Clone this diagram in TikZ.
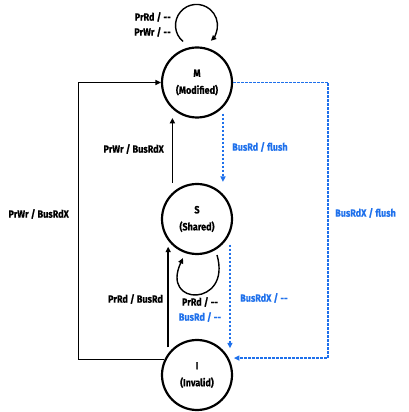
\documentclass[tikz,border=0pt]{standalone}
\usepackage{fontspec}
\setmainfont{Fira Sans}[FakeStretch=0.86, BoldFeatures={FakeBold=0.4}]
\usetikzlibrary{arrows.meta}
\definecolor{busblue}{RGB}{30,112,235}

\begin{document}
\begin{tikzpicture}[x=1pt, y=1pt, >={Triangle[length=5.5pt,width=5pt]},
		font=\bfseries\fontsize{10.5}{12}\selectfont,
		state/.style={draw, circle, line width=2.2pt, minimum size=70pt, inner sep=0pt, align=center},
		pr/.style={line width=1.4pt, ->},
		bus/.style={busblue, line width=1.4pt, dash pattern=on 2.5pt off 1.5pt, ->},
		lbl/.style={inner sep=1pt}]

		% Frame (same size as the sketch)
		\useasboundingbox (0,0) rectangle (408,412);

		% States
		\node[state] (M) at (197,329.5) {M\\[5pt](Modified)};
		\node[state] (S) at (197,193) {S\\[5pt](Shared)};
		\node[state] (I) at (197,37) {I\\[5pt](Invalid)};

		% Loop end points
		\coordinate (mLoopA) at (183,370.5);
		\coordinate (sLoopA) at (217,157);
		\coordinate (sLoopB) at (183,154);

		% Processor transitions (black)
		\draw[pr] (I.155) -- ++(-86,0) |- (M.west);
		\draw[pr, shorten <=10pt, shorten >=9pt] (S.133) -- (M.227);
		\draw[pr, shorten <=6pt, shorten >=6pt] (I.143) -- (S.217);

		% Self loops
		\draw[pr] (mLoopA) arc[start angle=230, end angle=-47, radius=21];
		\draw[pr] (sLoopA) .. controls +(15,-52) and +(-23,-49) .. (sLoopB);

		% Bus transitions (blue, dashed)
		\draw[bus, shorten <=6pt, shorten >=12pt] (M.-44) -- (S.44);
		\draw[bus, shorten <=11pt, shorten >=12pt] (S.-24) -- (I.24);
		\draw[bus, shorten >=5pt] (M.east) -- ++(95,0) |- (I.28);

		% Labels
		\node[lbl, anchor=east] (mLoopRd) at (172,395) {PrRd / -{}-};
		\node[lbl, anchor=east] (mLoopWr) at (172,380) {PrWr / -{}-};
		\node[lbl, anchor=east] (invToMod) at (70,198) {PrWr / BusRdX};
		\node[lbl, anchor=east] (shToMod) at (165,263) {PrWr / BusRdX};
		\node[lbl, anchor=east] (invToSh) at (164,113) {PrRd / BusRd};
		\node[lbl] (shLoopRd) at (200,110) {PrRd / -{}-};
		\node[lbl, text=busblue] (shLoopBus) at (200,95) {BusRd / -{}-};
		\node[lbl, anchor=west, text=busblue] (modToSh) at (231,265) {BusRd / flush};
		\node[lbl, anchor=west, text=busblue] (shToInv) at (239,114) {BusRdX / -{}-};
		\node[lbl, anchor=west, text=busblue] (modToInv) at (334,199) {BusRdX / flush};

	\end{tikzpicture}
\end{document}
